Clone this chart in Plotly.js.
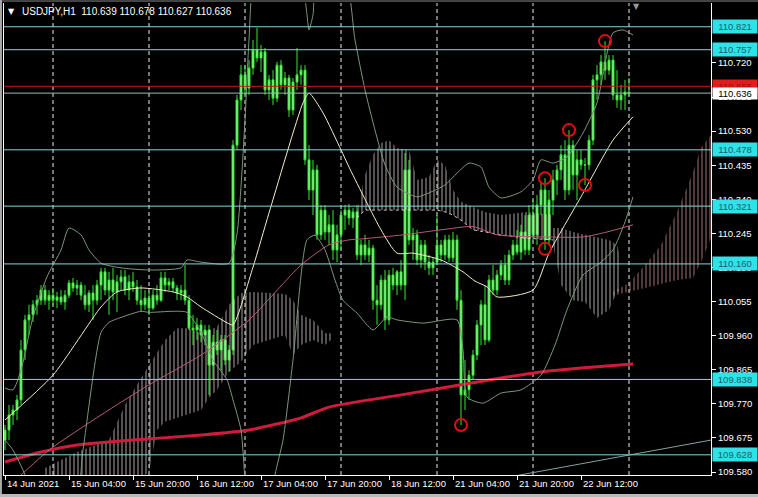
<!DOCTYPE html>
<html><head><meta charset="utf-8">
<script src="https://cdn.plot.ly/plotly-3.0.1.min.js"></script>
<style>html,body{margin:0;padding:0;background:#000;overflow:hidden}#chart{width:758px;height:497px;}</style>
</head><body><div id="chart"></div>
<script>
// ---- candles (H1 bars, index 0 = 14 Jun 2021 12:00) ----
const openP = [109.669,109.697,109.739,109.753,109.781,109.920,110.004,110.018,110.046,110.059,
110.087,110.059,110.073,110.059,110.068,110.054,110.073,110.107,110.093,110.101,
110.073,110.046,110.079,110.059,110.101,110.138,110.087,110.115,110.082,110.110,
110.124,110.087,110.110,110.096,110.059,110.046,110.065,110.037,110.073,110.059,
110.121,110.101,110.110,110.093,110.079,110.087,110.059,109.981,109.976,109.990,
109.962,109.976,109.878,109.942,109.920,109.948,109.892,109.920,110.491,110.617,
110.687,110.650,110.706,110.756,110.734,110.751,110.645,110.673,110.622,110.714,
110.659,110.678,110.589,110.667,110.687,110.700,110.450,110.366,110.422,110.241,
110.310,110.249,110.269,110.199,110.241,110.296,110.310,110.288,110.305,110.185,
110.213,110.185,110.204,110.059,110.046,110.115,110.004,110.129,110.101,110.138,
110.101,110.422,110.227,110.241,110.171,110.213,110.165,110.149,110.165,110.213,
110.185,110.227,110.177,110.227,110.059,109.795,109.809,109.850,109.906,109.990,
110.046,109.948,110.115,110.087,110.129,110.157,110.115,110.185,110.213,110.193,
110.249,110.199,110.296,110.241,110.324,110.366,110.227,110.338,110.394,110.422,
110.464,110.366,110.491,110.408,110.450,110.436,110.436,110.505,110.673,110.687,
110.723,110.700,110.728,110.631,110.617,110.631,110.639];
const highP = [109.711,109.767,109.767,109.795,109.948,110.018,110.046,110.059,110.073,110.101,
110.101,110.087,110.093,110.082,110.087,110.087,110.115,110.121,110.115,110.110,
110.101,110.087,110.101,110.115,110.149,110.149,110.138,110.149,110.129,110.143,
110.143,110.129,110.138,110.115,110.101,110.087,110.082,110.087,110.101,110.138,
110.138,110.121,110.121,110.101,110.101,110.157,110.073,110.018,110.009,110.004,
109.990,109.990,109.962,109.976,109.962,109.962,109.934,110.505,110.631,110.714,
110.714,110.728,110.784,110.818,110.770,110.762,110.687,110.700,110.723,110.728,
110.695,110.687,110.678,110.762,110.714,110.714,110.491,110.450,110.436,110.324,
110.324,110.296,110.310,110.269,110.310,110.324,110.327,110.316,110.324,110.227,
110.241,110.227,110.213,110.101,110.129,110.143,110.143,110.149,110.143,110.171,
110.469,110.450,110.260,110.255,110.227,110.227,110.185,110.177,110.296,110.227,
110.241,110.241,110.249,110.241,110.087,109.892,109.864,109.920,110.004,110.059,
110.101,110.129,110.157,110.143,110.171,110.185,110.199,110.227,110.255,110.269,
110.296,110.324,110.338,110.352,110.388,110.399,110.366,110.422,110.436,110.491,
110.505,110.533,110.505,110.478,110.478,110.455,110.519,110.687,110.714,110.742,
110.781,110.742,110.742,110.700,110.659,110.673,110.678];
const lowP = [109.641,109.669,109.711,109.725,109.767,109.892,109.962,109.998,110.018,110.046,
110.046,110.032,110.046,110.037,110.046,110.032,110.065,110.082,110.073,110.059,
110.032,110.026,110.004,110.046,110.059,110.073,110.018,110.059,110.026,110.087,
110.073,110.059,110.082,110.046,110.026,110.032,110.018,110.032,110.046,110.054,
110.082,110.087,110.082,110.059,110.059,110.046,109.976,109.934,109.948,109.942,
109.934,109.795,109.837,109.906,109.864,109.878,109.859,109.906,110.478,110.589,
110.631,110.631,110.687,110.723,110.695,110.631,110.617,110.603,110.611,110.645,
110.631,110.570,110.575,110.645,110.659,110.436,110.338,110.296,110.227,110.227,
110.227,110.213,110.171,110.165,110.199,110.255,110.269,110.260,110.171,110.157,
110.171,110.165,110.032,109.990,110.032,109.976,109.990,110.087,110.073,110.087,
110.059,110.213,110.171,110.157,110.149,110.143,110.129,110.129,110.157,110.165,
110.171,110.165,110.165,110.032,109.711,109.753,109.781,109.837,109.892,109.934,
109.934,109.942,110.073,110.073,110.115,110.101,110.101,110.171,110.185,110.171,
110.185,110.185,110.227,110.213,110.296,110.199,110.213,110.296,110.352,110.394,
110.338,110.352,110.366,110.338,110.422,110.380,110.422,110.491,110.617,110.659,
110.673,110.687,110.617,110.595,110.589,110.589,110.627];
const closeP = [109.697,109.739,109.753,109.781,109.920,110.004,110.018,110.046,110.059,110.087,
110.059,110.073,110.059,110.068,110.054,110.073,110.107,110.093,110.101,110.073,
110.046,110.079,110.059,110.101,110.138,110.087,110.115,110.082,110.110,110.124,
110.087,110.110,110.096,110.059,110.046,110.065,110.037,110.073,110.059,110.121,
110.101,110.110,110.093,110.079,110.087,110.059,109.981,109.976,109.990,109.962,
109.976,109.878,109.942,109.920,109.948,109.892,109.920,110.491,110.617,110.687,
110.650,110.706,110.756,110.734,110.751,110.645,110.673,110.622,110.714,110.659,
110.678,110.589,110.667,110.687,110.700,110.450,110.366,110.422,110.241,110.310,
110.249,110.269,110.199,110.241,110.296,110.310,110.288,110.305,110.185,110.213,
110.185,110.204,110.059,110.046,110.115,110.004,110.129,110.101,110.138,110.101,
110.422,110.227,110.241,110.171,110.213,110.165,110.149,110.165,110.213,110.185,
110.227,110.177,110.227,110.059,109.795,109.809,109.850,109.906,109.990,110.046,
109.948,110.115,110.087,110.129,110.157,110.115,110.185,110.213,110.193,110.249,
110.199,110.296,110.241,110.324,110.366,110.227,110.338,110.394,110.422,110.464,
110.366,110.491,110.408,110.450,110.436,110.436,110.505,110.673,110.687,110.723,
110.700,110.728,110.631,110.617,110.631,110.639,110.636];

// ---- moving averages / bands (bar index, price) ----
const redMaBars = [0,9,18,32,49,61,74,81,99,114,124,134,144,157];
const redMaVals = [109.608,109.636,109.655,109.669,109.683,109.697,109.731,109.761,109.795,109.823,109.842,109.859,109.870,109.881];
const pinkMaBars = [0,11,24,36,49,61,74,81,86,89.5,99.5,109,117,123,136,144.5,150.5,157];
const pinkMaVals = [109.530,109.641,109.739,109.823,109.906,110.004,110.157,110.213,110.227,110.230,110.241,110.255,110.264,110.241,110.235,110.235,110.249,110.269];
const midBars = [0,12,24,28,34,42,45.5,49,55.5,57,62,66,74.5,76,79.5,84,86,94,98,102,109,114.5,117.5,120.5,123,132,136,144,152,157];
const midVals = [109.725,109.850,110.040,110.082,110.093,110.082,110.068,110.040,109.996,109.990,110.151,110.302,110.609,110.636,110.581,110.478,110.430,110.255,110.190,110.190,110.171,110.138,110.112,110.096,110.068,110.087,110.190,110.347,110.505,110.570];
const upperBars = [0,2,4,7,10.5,14,16,19,21,24,29,36,44,45.5,49,56,58,60,61,62.5,70,74,75.5,76,77,78,85,87.5,90,92.5,95,98,103,106,110,113,116,119,121,124,129,132,134,137,140.5,144.5,148,152,154.5,157];
const upperVals = [109.814,109.809,109.864,110.012,110.124,110.199,110.260,110.241,110.199,110.162,110.149,110.143,110.149,110.171,110.165,110.162,110.244,110.561,110.784,110.980,111.100,110.980,110.854,110.812,110.854,110.950,110.950,110.784,110.645,110.533,110.436,110.374,110.347,110.358,110.380,110.413,110.441,110.430,110.374,110.344,110.361,110.394,110.450,110.441,110.458,110.525,110.609,110.804,110.812,110.798];
const lowerBars = [0,2,5,8,17,19.5,24,26,29,34,36,42,45.5,49,52,55.5,57,59,60,61,66,67.5,69.5,72,75.5,77.5,80,82.5,84.5,88,92,95.5,98,104.5,113,114.5,115.5,119.5,124,129,134,137.5,140.5,144.5,149,152,155,157];
const lowerVals = [109.669,109.641,109.572,109.450,109.450,109.641,109.969,109.997,110.011,110.028,110.025,110.028,110.025,109.969,109.892,109.837,109.781,109.697,109.558,109.450,109.450,109.572,109.669,109.892,110.227,110.240,110.199,110.115,110.059,110.023,109.976,110.012,110.004,109.995,110.004,109.920,109.789,109.772,109.800,109.809,109.850,109.934,110.032,110.129,110.165,110.199,110.277,110.347];
const trendBars = [120,176.5];
const trendVals = [109.554,109.669];

// ---- Ichimoku cloud segments ----
const cloud1Bars = [10,18,26,30,34,36,38,40,43,46,49,51,53,56,59,62,66,70,72,74,77,80,82];
const cloud1Top = [109.591,109.636,109.669,109.767,109.842,109.878,109.912,109.948,109.981,109.981,109.967,109.976,109.984,110.046,110.079,110.082,110.079,110.076,110.059,110.018,110.004,109.967,109.967];
const cloud1Bot = [109.540,109.540,109.540,109.540,109.563,109.580,109.697,109.720,109.733,109.742,109.753,109.786,109.809,109.859,109.887,109.934,109.948,109.962,109.906,109.934,109.948,109.934,109.953];
const cloud2Bars = [88,90,92,94,96,98,101,103,106,108,110,112,114,117,120,124,130,137];
const cloud2Top = [110.305,110.408,110.464,110.497,110.505,110.483,110.478,110.394,110.402,110.450,110.436,110.366,110.333,110.319,110.305,110.296,110.305,110.296];
const cloud2Bot = [110.288,110.310,110.310,110.310,110.310,110.310,110.310,110.310,110.310,110.310,110.305,110.296,110.282,110.255,110.249,110.241,110.232,110.227];
const cloud3Bars = [137,139,142,145,148,151,153,154];
const cloud3Top = [110.260,110.260,110.249,110.241,110.235,110.227,110.213,110.171];
const cloud3Bot = [110.213,110.101,110.059,110.054,110.009,110.032,110.082,110.087];
const cloud4Bars = [152,156,160,164,168,172,174,176.5];
const cloud4Top = [110.082,110.107,110.157,110.213,110.305,110.416,110.483,110.519];
const cloud4Bot = [110.071,110.082,110.093,110.104,110.115,110.121,110.165,110.232];

// ---- marked points ----
const circleBars = [114,135,135,141,145,150];
const circleVals = [109.711,110.399,110.202,110.533,110.380,110.781];

// ---- levels and axes ----
const levelPrices = [110.821,110.757,110.478,110.321,110.160,109.838,109.628];
const redLevel = 110.655;
const bidPrice = 110.636;
const yTicks = [110.720,110.625,110.530,110.435,110.340,110.245,110.150,110.055,109.960,109.865,109.770,109.675,109.580];
const tickBars = [0,16,32,48,64,80,96,112,128,144];
const tickLabels = ['14 Jun 2021','15 Jun 04:00','15 Jun 20:00','16 Jun 12:00','17 Jun 04:00','17 Jun 20:00','18 Jun 12:00','21 Jun 04:00','21 Jun 20:00','22 Jun 12:00'];
const daySeparators = [12,36,60,84,108,132,156];
const titleText = 'USDJPY,H1\u00a0\u00a0110.639 110.678 110.627 110.636';

const FONT = 'Liberation Sans, Arial, sans-serif';
const barIdx = closeP.map((_, i) => i);

function cloudTrace(bars, top, bot, color) {
  return {
    type: 'scatter', mode: 'lines',
    x: bars.concat(bars.slice().reverse()),
    y: top.concat(bot.slice().reverse()),
    fill: 'toself',
    fillcolor: 'rgba(0,0,0,0)',
    fillpattern: {shape: '|', size: 4, solidity: 0.25, fgcolor: color, bgcolor: 'rgba(0,0,0,0)', fgopacity: 0.7},
    line: {width: 0, color: 'rgba(0,0,0,0)'},
    hoverinfo: 'skip', showlegend: false
  };
}
function edgeTrace(bars, vals, color) {
  return {type: 'scatter', mode: 'lines', x: bars, y: vals,
    line: {color: color, width: 1, dash: 'dot'}, hoverinfo: 'skip', showlegend: false};
}
function lineTrace(bars, vals, color, width) {
  return {type: 'scatter', mode: 'lines', x: bars, y: vals, line: {color: color, width: width, shape: 'spline', smoothing: 0.6},
    hoverinfo: 'skip', showlegend: false};
}

const cloudLight = '#f6e2e2';
const cloudPink = '#e0a49c';
const traces = [
  cloudTrace(cloud1Bars, cloud1Top, cloud1Bot, cloudLight),
  cloudTrace(cloud2Bars, cloud2Top, cloud2Bot, cloudLight),
  cloudTrace(cloud3Bars, cloud3Top, cloud3Bot, '#f2ecec'),
  cloudTrace(cloud4Bars, cloud4Top, cloud4Bot, cloudPink),
  edgeTrace(cloud2Bars, cloud2Bot, 'rgba(240,220,220,0.85)'),
  {type: 'scatter', mode: 'lines', x: trendBars, y: trendVals, line: {color: '#7fa3a3', width: 1}, hoverinfo: 'skip', showlegend: false},
  {
    type: 'candlestick', x: barIdx, open: openP, high: highP, low: lowP, close: closeP,
    increasing: {line: {color: '#33e633', width: 1}, fillcolor: '#a6f5a6'},
    decreasing: {line: {color: '#33e633', width: 1}, fillcolor: '#a6f5a6'},
    whiskerwidth: 0, hoverinfo: 'skip', showlegend: false
  },
  lineTrace(redMaBars, redMaVals, '#d01c3c', 3),
  lineTrace(pinkMaBars, pinkMaVals, '#b8587a', 1),
  lineTrace(upperBars, upperVals, '#7a977a', 1),
  lineTrace(lowerBars, lowerVals, '#7a977a', 1),
  lineTrace(midBars, midVals, '#f3efc8', 1),
  {
    type: 'scatter', mode: 'markers', x: circleBars, y: circleVals,
    marker: {symbol: 'circle-open', size: 12, color: '#e01010', line: {width: 2, color: '#e01010'}},
    hoverinfo: 'skip', showlegend: false
  }
];

const shapes = [];
daySeparators.forEach(b => shapes.push({type: 'line', xref: 'x', yref: 'paper', x0: b, x1: b, y0: 0, y1: 1,
  line: {color: '#ececec', width: 1, dash: '4px,3px'}, layer: 'below'}));
levelPrices.forEach(p => shapes.push({type: 'line', xref: 'paper', yref: 'y', x0: 0, x1: 1, y0: p, y1: p,
  line: {color: '#84d6da', width: 1}}));
shapes.push({type: 'line', xref: 'paper', yref: 'y', x0: 0, x1: 1, y0: redLevel, y1: redLevel, line: {color: '#c81818', width: 1}});
shapes.push({type: 'line', xref: 'paper', yref: 'y', x0: 0, x1: 1, y0: bidPrice, y1: bidPrice, line: {color: '#9fb8bb', width: 1}});
// window frame strips
shapes.push({type: 'line', xref: 'paper', yref: 'paper', x0: -0.0057, x1: 1.067, y0: 1.0042, y1: 1.0042, line: {color: '#8a8a8a', width: 1}});
shapes.push({type: 'rect', xref: 'paper', yref: 'paper', x0: -0.0057, x1: -0.0029, y0: -0.047, y1: 1.0064, fillcolor: '#a8a8a8', line: {width: 0}});
shapes.push({type: 'rect', xref: 'paper', yref: 'paper', x0: -0.0057, x1: 1.067, y0: -0.047, y1: -0.0405, fillcolor: '#b8b8b8', line: {width: 0}});

const annotations = [];
annotations.push({xref: 'paper', yref: 'paper', x: 0.0113, y: 0.981, xanchor: 'center', yanchor: 'middle',
  text: '\u25BC', showarrow: false, font: {family: 'DejaVu Sans', size: 8, color: '#ffffff'}});
annotations.push({xref: 'paper', yref: 'paper', x: 0.0226, y: 0.981, xanchor: 'left', yanchor: 'middle',
  text: titleText, showarrow: false, font: {family: FONT, size: 10, color: '#ffffff'}});
annotations.push({xref: 'paper', yref: 'paper', x: 0.894, y: 0.9936, xanchor: 'center', yanchor: 'middle',
  text: '\u25BC', showarrow: false, font: {family: 'DejaVu Sans', size: 8, color: '#9a9a9a'}});
tickBars.forEach((b, k) => annotations.push({xref: 'x', yref: 'paper', x: b, y: -0.019, xanchor: 'left', yanchor: 'middle',
  xshift: 0, text: tickLabels[k], showarrow: false, font: {family: FONT, size: 9.5, color: '#ffffff'}}));
levelPrices.forEach(p => annotations.push({xref: 'paper', yref: 'y', x: 1, y: p, xanchor: 'left', yanchor: 'middle', xshift: 1,
  text: p.toFixed(3), showarrow: false, bgcolor: '#2fe2e8', width: 42, height: 11, borderpad: 1,
  font: {family: FONT, size: 9.5, color: '#17606e'}}));
annotations.push({xref: 'paper', yref: 'y', x: 1, y: redLevel, xanchor: 'left', yanchor: 'middle', xshift: 1,
  text: redLevel.toFixed(3), showarrow: false, bgcolor: '#e01c1c', width: 42, height: 11, borderpad: 1,
  font: {family: FONT, size: 9.5, color: '#9a1010'}});
annotations.push({xref: 'paper', yref: 'y', x: 1, y: bidPrice, xanchor: 'left', yanchor: 'middle', xshift: 1,
  text: bidPrice.toFixed(3), showarrow: false, bgcolor: '#ffffff', width: 42, height: 9, borderpad: 1,
  font: {family: FONT, size: 9.5, color: '#000000'}});

const layout = {
  width: 758, height: 497,
  margin: {l: 4, r: 47, t: 3, b: 22, pad: 0},
  paper_bgcolor: '#000000', plot_bgcolor: '#000000',
  showlegend: false, hovermode: false, dragmode: false,
  xaxis: {
    type: 'linear', range: [-0.25, 176.5], showgrid: false, zeroline: false,
    showline: true, linecolor: '#ffffff', linewidth: 1, mirror: false,
    tickmode: 'array', tickvals: tickBars, ticks: 'outside', ticklen: 4, tickcolor: '#ffffff',
    showticklabels: false, rangeslider: {visible: false}, fixedrange: true
  },
  yaxis: {
    side: 'right', range: [109.5717, 110.8872], showgrid: false, zeroline: false,
    showline: true, linecolor: '#ffffff', linewidth: 1, mirror: true,
    tickmode: 'array', tickvals: yTicks, ticktext: yTicks.map(v => v.toFixed(3)),
    ticks: 'outside', ticklen: 4, tickcolor: '#ffffff',
    tickfont: {family: FONT, size: 9.5, color: '#ffffff'}, fixedrange: true
  },
  shapes: shapes,
  annotations: annotations
};

Plotly.newPlot('chart', traces, layout, {displayModeBar: false, staticPlot: true});
</script>
</body></html>
